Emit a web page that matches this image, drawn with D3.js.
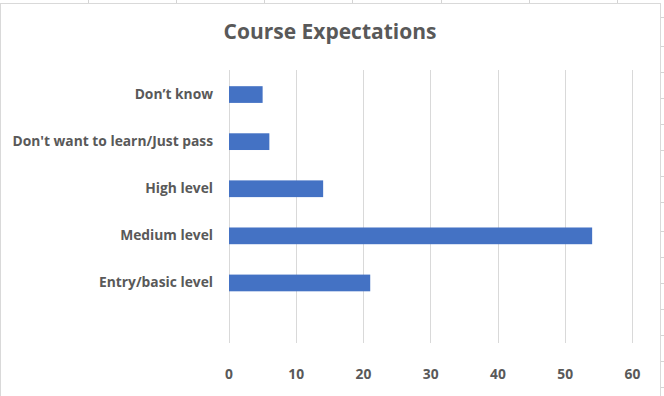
<!DOCTYPE html>
<html>
<head>
<meta charset="utf-8">
<script src="https://cdn.jsdelivr.net/npm/d3@7"></script>
<style>
  body { margin: 0; background: #fff; }
  svg { display: block; font-family: "Open Sans", sans-serif; }
</style>
</head>
<body>
<svg id="chart" width="664" height="396"></svg>
<script>
// chart data
var categories = ["Don\u2019t know", "Don't want to learn/Just pass", "High level", "Medium level", "Entry/basic level"];
var values = [5, 6, 14, 54, 21];
var xTicks = [0, 10, 20, 30, 40, 50, 60];
var title = "Course Expectations";

// spreadsheet grid peeking out around the chart frame
var sheetCols = [88, 176, 264, 352, 441, 529, 617];
var sheetRows = [17, 46, 72, 98, 124, 150, 176, 202, 231, 257, 283, 309, 335, 361, 387];

var svg = d3.select("#chart");
var textColor = "#595959";
var gridColor = "#d9d9d9";
var font = "'Open Sans', sans-serif";

// sheet grid bits
svg.selectAll(".col").data(sheetCols).enter().append("line")
    .attr("x1", d => d + 0.5).attr("x2", d => d + 0.5)
    .attr("y1", 0).attr("y2", 4)
    .attr("stroke", "#d4d4d4");
svg.selectAll(".row").data(sheetRows).enter().append("line")
    .attr("x1", 661).attr("x2", 664)
    .attr("y1", d => d + 0.5).attr("y2", d => d + 0.5)
    .attr("stroke", "#d4d4d4");

// chart frame
svg.append("rect")
    .attr("x", 0.5).attr("y", 3.5)
    .attr("width", 660).attr("height", 420)
    .attr("fill", "#fff")
    .attr("stroke", gridColor);

svg.append("text")
    .attr("x", 330).attr("y", 32)
    .attr("dy", "0.35em")
    .attr("text-anchor", "middle")
    .attr("fill", textColor)
    .style("font-size", "21px")
    .style("font-weight", "bold")
    .text(title);

var plot = {left: 228.5, right: 632, top: 70, bottom: 343};

var x = d3.scaleLinear()
    .domain([0, 60])
    .range([plot.left, plot.right]);

var y = d3.scaleBand()
    .domain(categories)
    .range([71, 306.5])
    .paddingInner(0.645)
    .paddingOuter(0.3225);

// vertical gridlines
svg.selectAll(".grid").data(xTicks).enter().append("line")
    .attr("x1", d => Math.round(x(d)) + 0.5)
    .attr("x2", d => Math.round(x(d)) + 0.5)
    .attr("y1", plot.top).attr("y2", plot.bottom)
    .attr("stroke", gridColor)
    .attr("stroke-width", 1);

// bars
svg.selectAll(".bar").data(values).enter().append("rect")
    .attr("x", x(0) + 0.5)
    .attr("y", (d, i) => y(categories[i]))
    .attr("width", d => x(d) - x(0))
    .attr("height", y.bandwidth())
    .attr("fill", "#4472c4");

// x axis labels
var xAxis = svg.append("g")
    .attr("transform", "translate(0," + 374 + ")")
    .call(d3.axisBottom(x).tickValues(xTicks).tickSize(0).tickPadding(0));
xAxis.select(".domain").remove();
xAxis.selectAll("text")
    .attr("dy", "0.35em")
    .attr("fill", textColor)
    .style("font-family", font)
    .style("font-size", "13.8px")
    .style("font-weight", "bold");

// category labels
var yAxis = svg.append("g")
    .attr("transform", "translate(" + 213 + ",0)")
    .call(d3.axisLeft(y).tickSize(0).tickPadding(0));
yAxis.select(".domain").remove();
yAxis.selectAll("text")
    .attr("fill", textColor)
    .style("font-family", font)
    .style("font-size", "13.8px")
    .style("font-weight", "bold");
</script>
</body>
</html>
